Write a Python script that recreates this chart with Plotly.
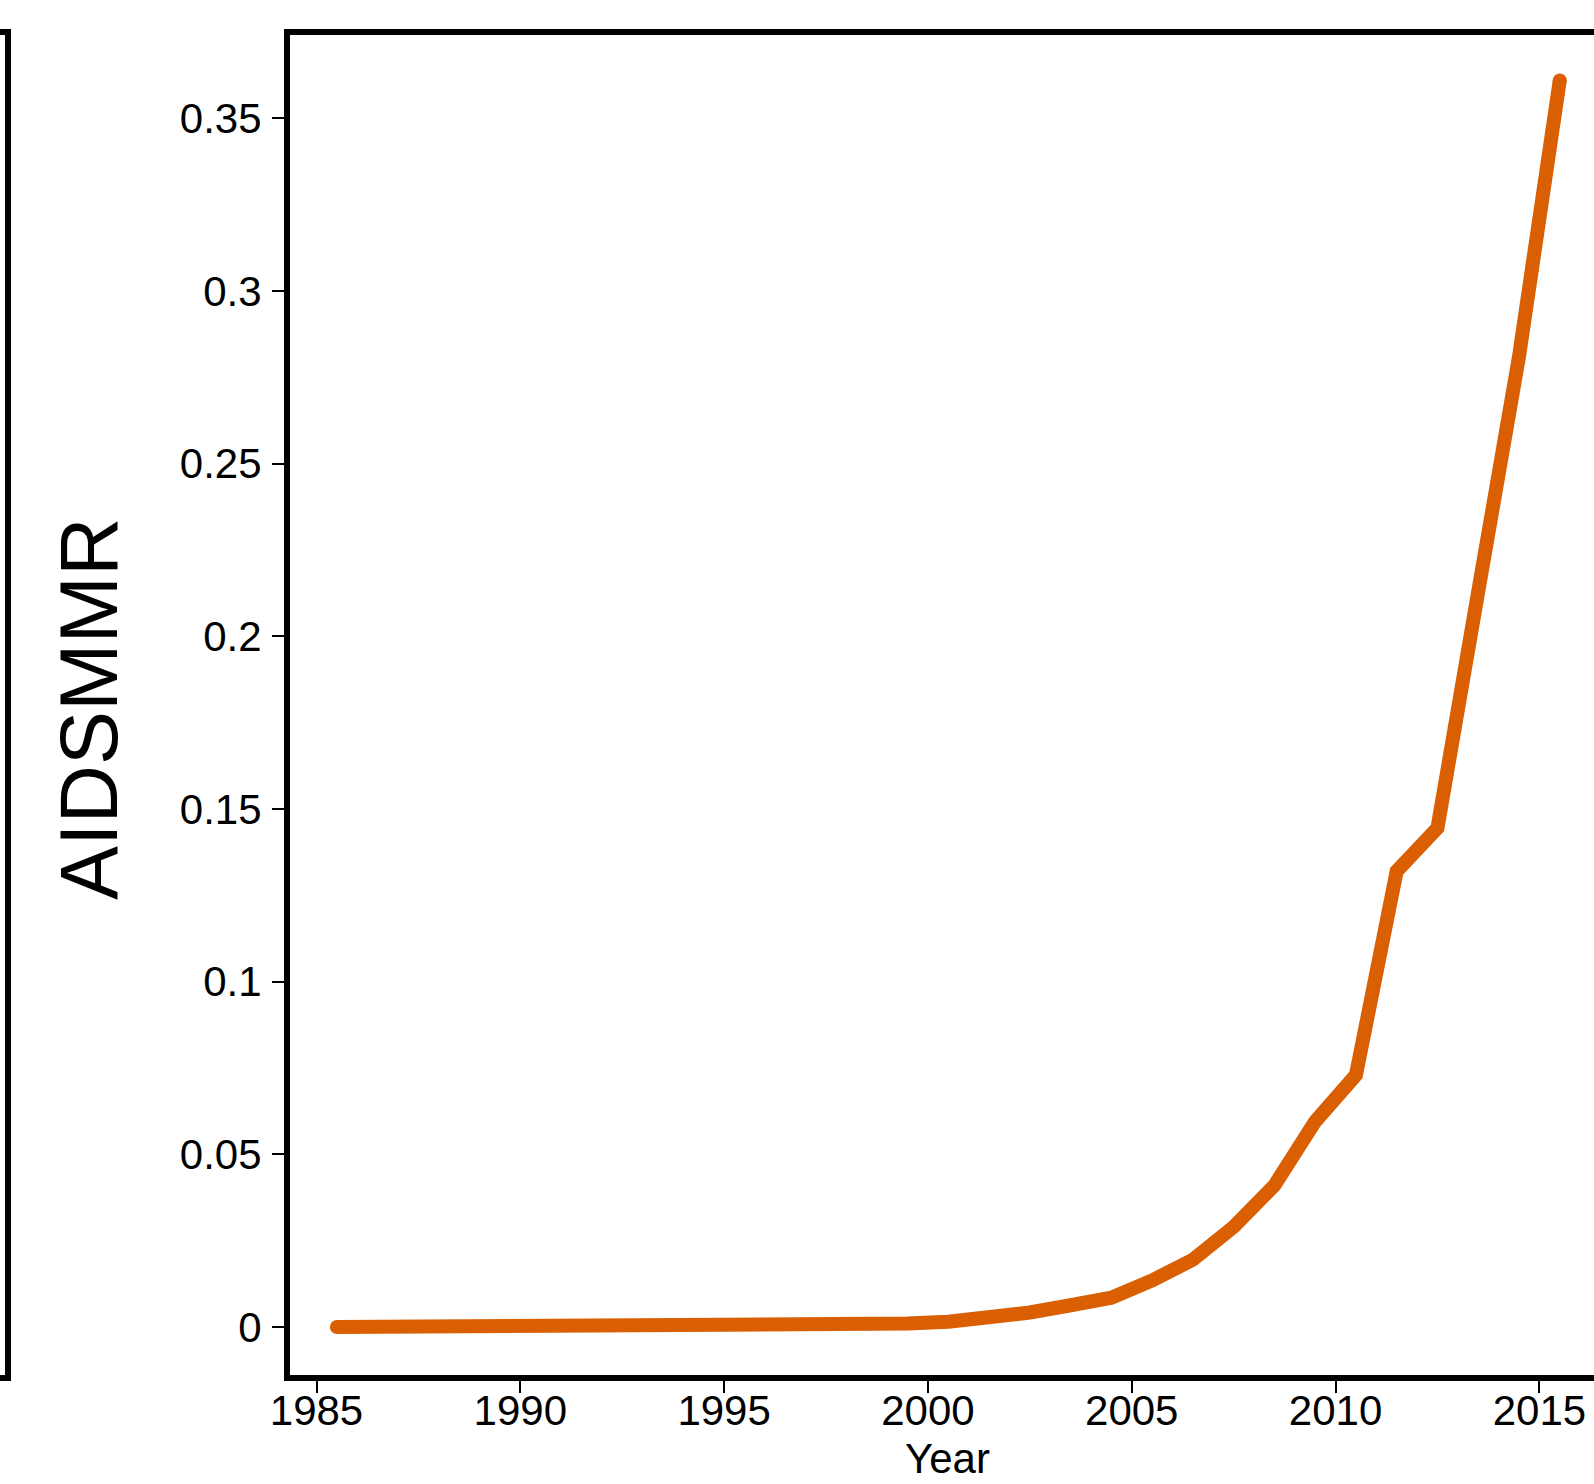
import plotly.graph_objects as go

years = [1985.5, 1986.5, 1987.5, 1988.5, 1989.5, 1990.5, 1991.5, 1992.5, 1993.5, 1994.5,
         1995.5, 1996.5, 1997.5, 1998.5, 1999.5, 2000.5, 2001.5, 2002.5, 2003.5, 2004.5,
         2005.5, 2006.5, 2007.5, 2008.5, 2009.5, 2010.5, 2011.5, 2012.5, 2013.5, 2014.5, 2015.5]
aidsmmr = [0.0, 0.0, 0.0, 0.00001, 0.00002, 0.00003, 0.00005, 0.00008, 0.00012, 0.00018,
           0.00026, 0.00036, 0.0005, 0.0007, 0.001, 0.0015, 0.0025, 0.0042, 0.0063, 0.0085,
           0.0135, 0.0195, 0.029, 0.041, 0.0595, 0.073, 0.132, 0.1445, 0.213, 0.281, 0.361]

x_ticks = [1985, 1990, 1995, 2000, 2005, 2010, 2015]
y_ticks = [0, 0.05, 0.1, 0.15, 0.2, 0.25, 0.3, 0.35]
y_tick_labels = ["0", "0.05", "0.1", "0.15", "0.2", "0.25", "0.3", "0.35"]

COLOR = "#D95F02"
FONT = "Liberation Sans, Arial, Helvetica, sans-serif"

W, H = 1594, 1484
ML, MR, MT, MB = 290, 0, 35, 109

fig = go.Figure()
fig.add_trace(go.Scatter(
    x=years, y=aidsmmr, mode="lines",
    line=dict(color=COLOR, width=14),
    hoverinfo="skip", showlegend=False,
))
# round end caps
fig.add_trace(go.Scatter(
    x=[years[0], years[-1]], y=[aidsmmr[0], aidsmmr[-1]], mode="markers",
    marker=dict(color=COLOR, size=14, line=dict(width=0)),
    hoverinfo="skip", showlegend=False,
))

pw = W - ML - MR
ph = H - MT - MB


def px2x(px):
    return (px - ML) / pw


def px2y(py):
    return 1 - (py - MT) / ph


fig.update_layout(
    width=W, height=H,
    margin=dict(l=ML, r=MR, t=MT, b=MB, pad=0),
    paper_bgcolor="white", plot_bgcolor="white",
    font=dict(family=FONT, color="black", size=42),
    xaxis=dict(
        range=[1984.35, 2016.34],
        tickmode="array", tickvals=x_ticks, ticktext=[str(t) for t in x_ticks],
        ticks="outside", ticklen=12, tickwidth=2, tickcolor="black",
        showline=True, linewidth=6, linecolor="black", mirror=True,
        showgrid=False, zeroline=False,
        tickfont=dict(family=FONT, size=42, color="black"),
        ticklabelstandoff=-18,
    ),
    yaxis=dict(
        range=[-0.0139, 0.37417],
        tickmode="array", tickvals=y_ticks, ticktext=y_tick_labels,
        ticks="outside", ticklen=12, tickwidth=2, tickcolor="black",
        showline=True, linewidth=6, linecolor="black", mirror=False,
        showgrid=False, zeroline=False,
        tickfont=dict(family=FONT, size=42, color="black"),
        ticklabelstandoff=2,
    ),
    annotations=[
        dict(text="Year", xref="paper", yref="paper",
             x=px2x(947.5), y=px2y(1458),
             xanchor="center", yanchor="middle", showarrow=False,
             font=dict(family=FONT, size=42, color="black")),
        dict(text="AIDSMMR", xref="paper", yref="paper",
             x=px2x(89), y=px2y(709),
             xanchor="center", yanchor="middle", showarrow=False, textangle=-90,
             font=dict(family=FONT, size=81, color="black")),
    ],
    shapes=[
        # right edge of the neighbouring panel (cut off at left)
        dict(type="path", xref="paper", yref="paper",
             path=f"M {px2x(-5)},{px2y(32)} L {px2x(8)},{px2y(32)} "
                  f"L {px2x(8)},{px2y(1378)} L {px2x(-5)},{px2y(1378)}",
             line=dict(color="black", width=6)),
    ],
)

fig.write_html("out.html", config={"displayModeBar": False},
               post_script="document.body.style.margin='0';")
